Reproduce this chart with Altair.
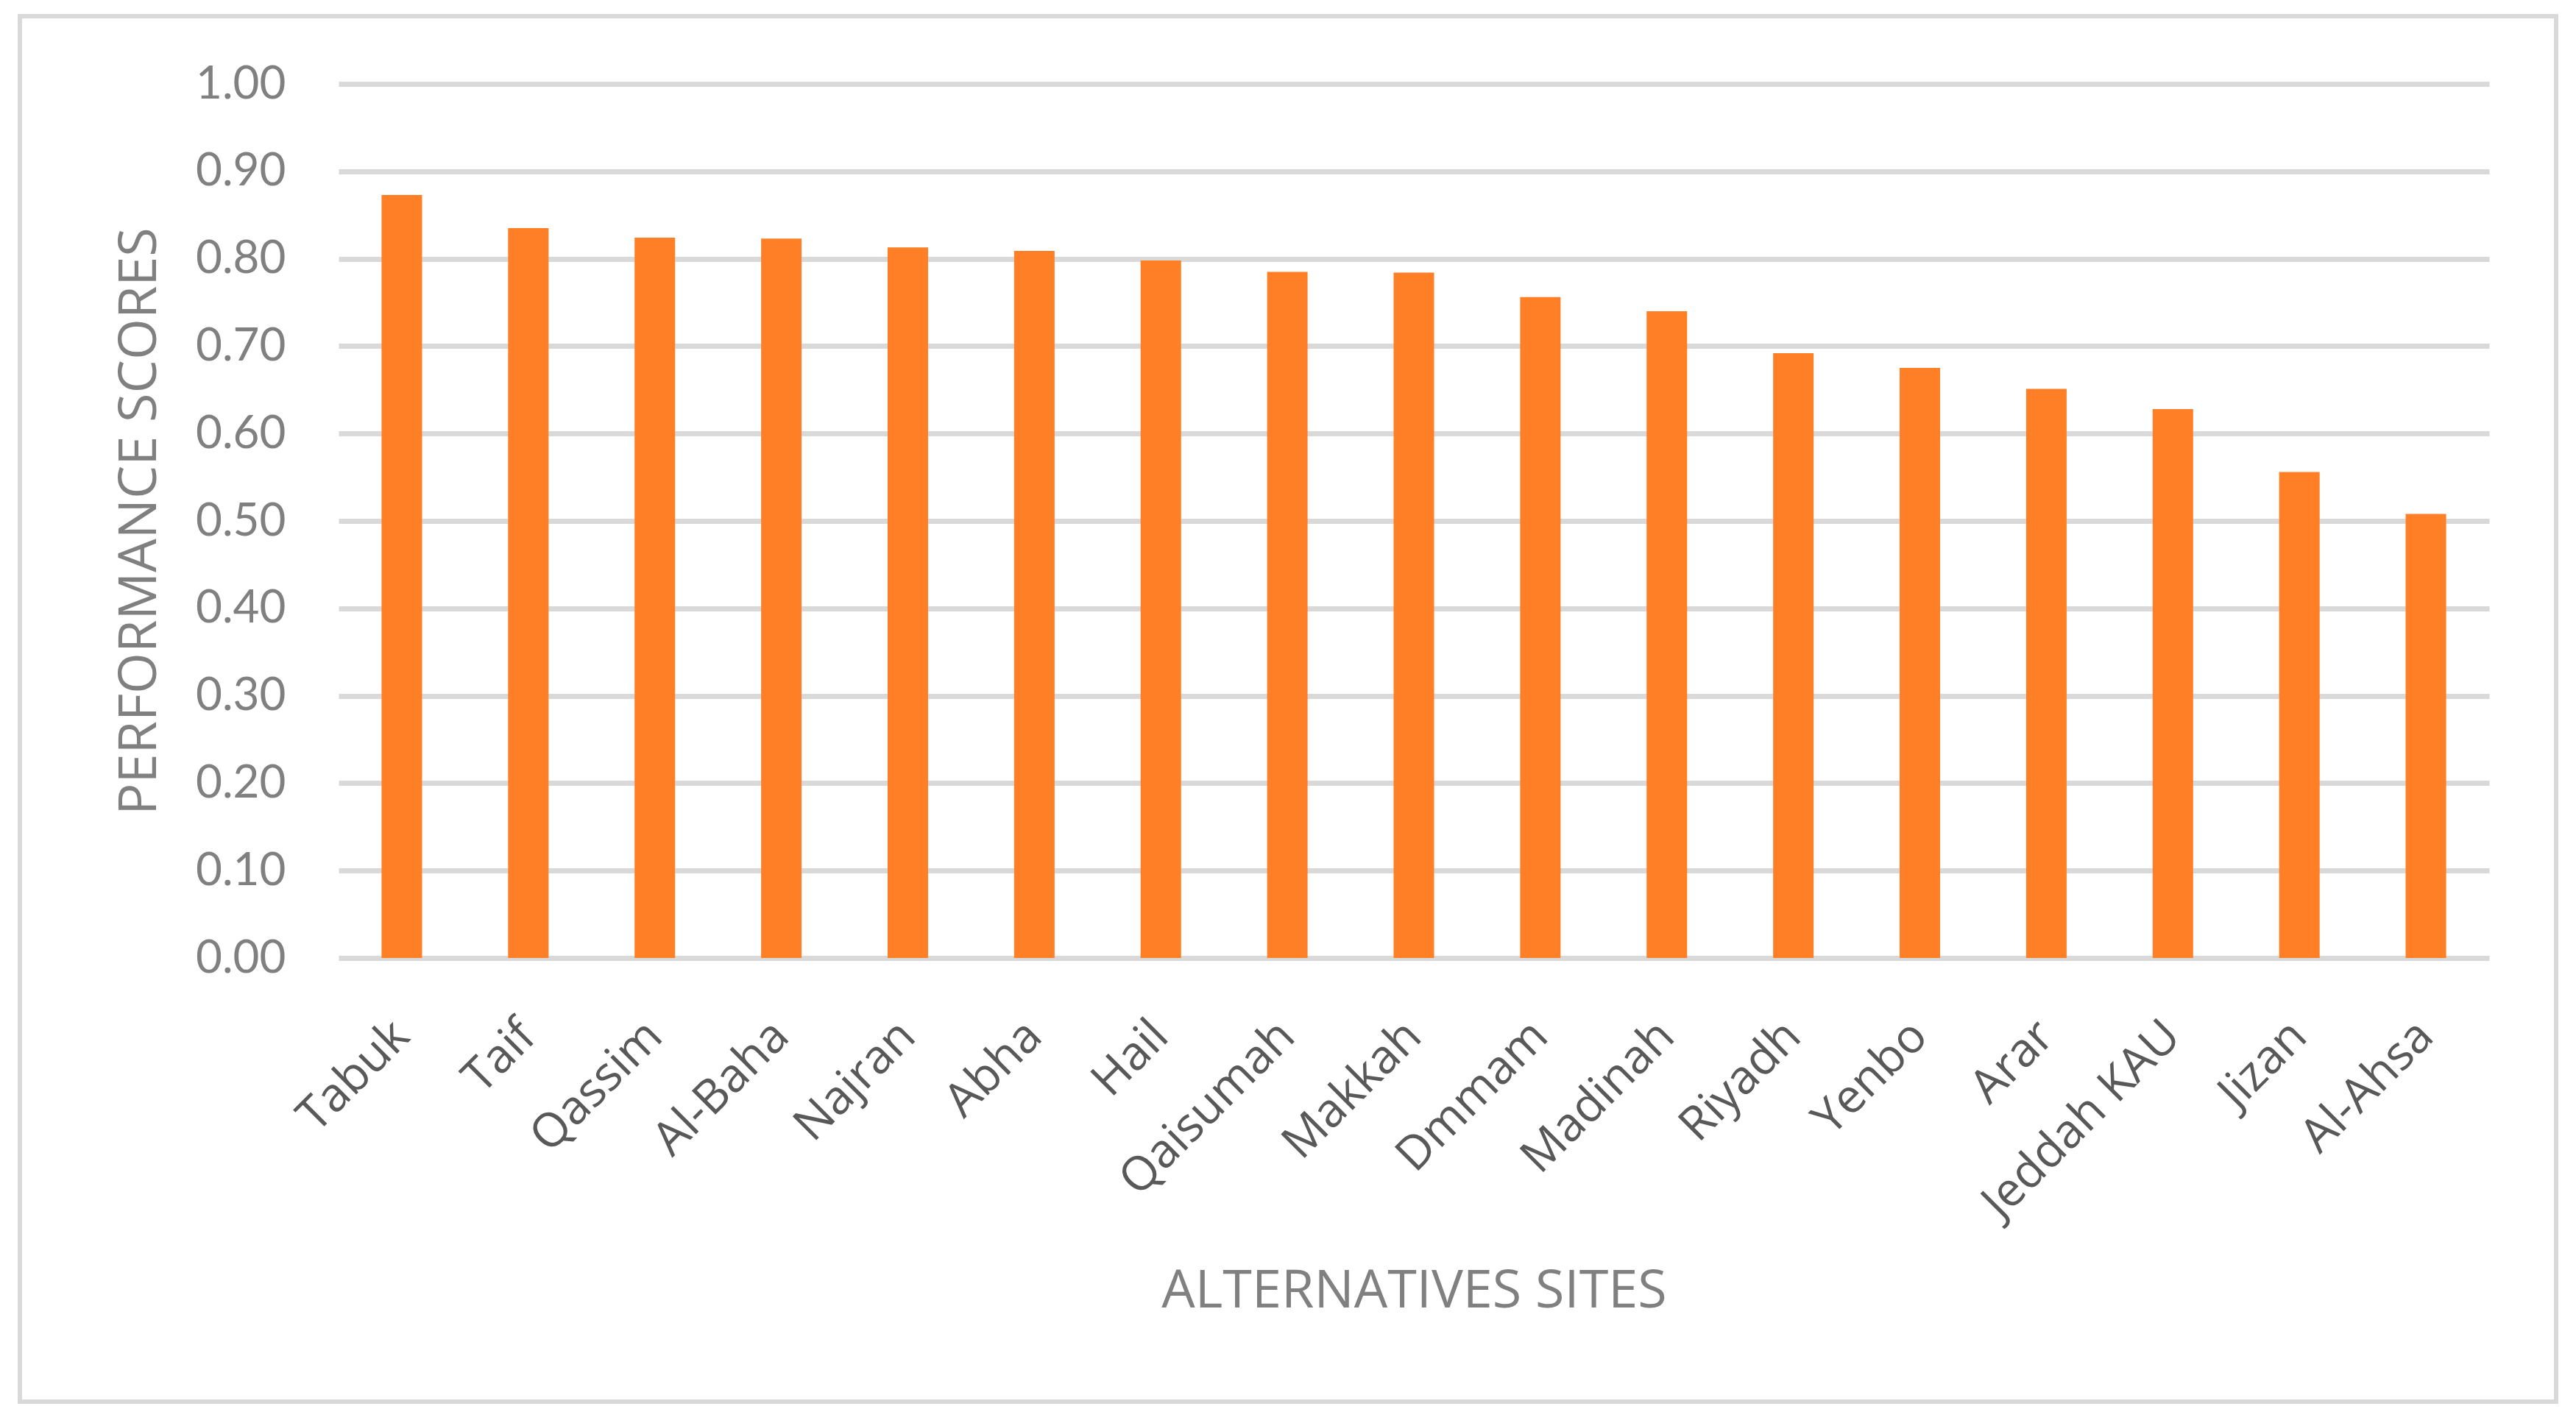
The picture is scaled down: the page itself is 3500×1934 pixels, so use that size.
import altair as alt
import pandas as pd

sites = ["Tabuk", "Taif", "Qassim", "Al-Baha", "Najran", "Abha", "Hail", "Qaisumah",
         "Makkah", "Dmmam", "Madinah", "Riyadh", "Yenbo", "Arar", "Jeddah KAU", "Jizan", "Al-Ahsa"]
scores = [0.873, 0.835, 0.824, 0.823, 0.813, 0.809, 0.798, 0.785,
          0.784, 0.756, 0.740, 0.692, 0.675, 0.651, 0.628, 0.556, 0.508]
y_ticks = [0.0, 0.1, 0.2, 0.3, 0.4, 0.5, 0.6, 0.7, 0.8, 0.9, 1.0]

df = pd.DataFrame({"site": sites, "score": scores})

W, H = 2922, 1188

bars = alt.Chart(df).mark_bar(color="#FF7F27").encode(
    x=alt.X("site:N", sort=None,
            scale=alt.Scale(paddingInner=0.68, paddingOuter=0.34),
            axis=alt.Axis(title="ALTERNATIVES SITES", labelAngle=-45, labelAlign="right",
                          labelBaseline="middle", labelPadding=96, labelFont="Open Sans",
                          labelFontSize=64, labelColor="#595959", labelLimit=2000,
                          ticks=False, domain=False,
                          titleFont="Open Sans", titleFontSize=72, titleFontWeight="normal",
                          titleColor="#808080", titleY=474, titleBaseline="alphabetic")),
    y=alt.Y("score:Q", scale=alt.Scale(domain=[0, 1], nice=False),
            axis=alt.Axis(title="PERFORMANCE SCORES", values=y_ticks, format=".2f",
                          labelFont="Lato", labelFontSize=62, labelColor="#808080",
                          labelPadding=72, ticks=False, domain=False,
                          grid=True, gridColor="#d9d9d9", gridWidth=7,
                          titleFont="Open Sans", titleFontSize=72, titleFontWeight="normal",
                          titleColor="#808080", titleX=-249, titleY=H / 2,
                          titleBaseline="alphabetic", titleAlign="center", titleAngle=-90)),
)

border = alt.Chart(pd.DataFrame({"k": [0]})).mark_rect(
    fillOpacity=0, stroke="#d9d9d9", strokeWidth=6
).encode(
    x=alt.value(-433), x2=alt.value(3013), y=alt.value(-92), y2=alt.value(1791)
)

chart = alt.layer(border, bars).properties(
    width=W, height=H,
    autosize=alt.AutoSizeParams(type="none"),
    padding={"left": 452, "top": 106, "right": 110, "bottom": 616},
    background="white",
).configure_view(strokeWidth=0)

chart.save("out.html", embed_options={"renderer": "svg", "actions": False})
